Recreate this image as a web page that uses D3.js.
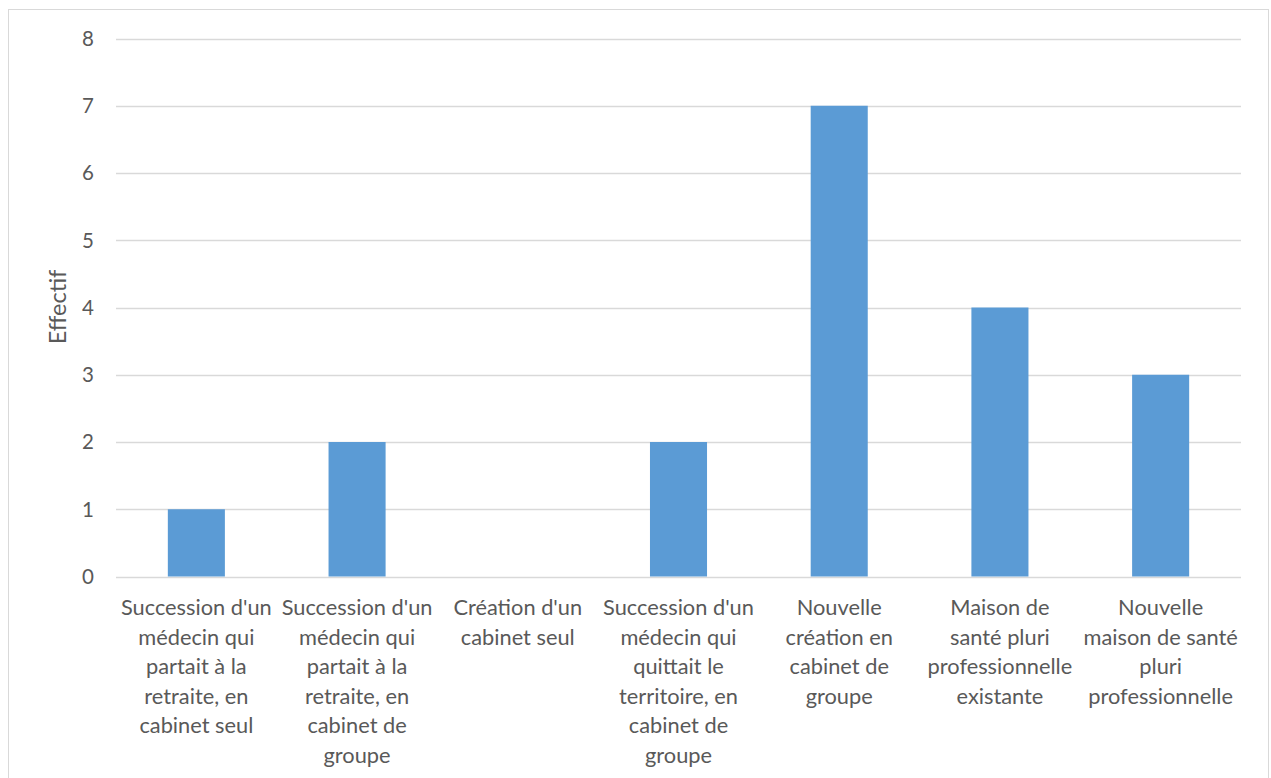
<!DOCTYPE html>
<html><head><meta charset="utf-8">
<script src="https://cdn.jsdelivr.net/npm/d3@7"></script>
<style>body{margin:0;background:#fff}svg{display:block}text{font-family:Lato,"Open Sans",sans-serif;fill:#595959}</style>
</head><body>
<svg id="c" width="1271" height="778"></svg>
<script>
const categories = [
  ["Succession d'un","médecin qui","partait à la","retraite, en","cabinet seul"],
  ["Succession d'un","médecin qui","partait à la","retraite, en","cabinet de","groupe"],
  ["Création d'un","cabinet seul"],
  ["Succession d'un","médecin qui","quittait le","territoire, en","cabinet de","groupe"],
  ["Nouvelle","création en","cabinet de","groupe"],
  ["Maison de","santé pluri","professionnelle","existante"],
  ["Nouvelle","maison de santé","pluri","professionnelle"]
];
const values = [1, 2, 0, 2, 7, 4, 3];
const yTicks = [0,1,2,3,4,5,6,7,8];
const yTitle = "Effectif";

const svg = d3.select("#c");
svg.append("rect").attr("x",8.5).attr("y",9.5).attr("width",1260).attr("height",800)
  .attr("fill","none").attr("stroke","#d9d9d9");

const m = {l:116, r:1241, t:38.5, b:576.5};
const x = d3.scaleBand().domain(d3.range(categories.length)).range([m.l, m.r])
  .paddingInner(0.645).paddingOuter(0.3225);
const y = d3.scaleLinear().domain([0,8]).range([m.b, m.t]);

const grid = svg.append("g");
grid.selectAll("line").data(yTicks).join("line")
  .attr("x1",m.l).attr("x2",m.r)
  .attr("y1",d=>Math.round(y(d))+0.5).attr("y2",d=>Math.round(y(d))+0.5)
  .attr("stroke","#d9d9d9").attr("stroke-width",1.3);

svg.append("g").selectAll("rect").data(values).join("rect")
  .attr("x",(d,i)=>x(i)).attr("width",x.bandwidth())
  .attr("y",d=>y(d)).attr("height",d=>y(0)-y(d))
  .attr("fill","#5b9bd5");

svg.append("g").selectAll("text").data(yTicks).join("text")
  .attr("x",94).attr("y",d=>y(d)).attr("dy","0.36em")
  .attr("text-anchor","end").attr("font-size",20.5).text(d=>d);

const lab = svg.append("g").selectAll("text").data(categories).join("text")
  .attr("text-anchor","middle").attr("font-size",21.8)
  .attr("transform",(d,i)=>`translate(${x(i)+x.bandwidth()/2},615)`);
lab.selectAll("tspan").data(d=>d).join("tspan")
  .attr("x",0).attr("y",(d,j)=>j*29.6).text(d=>d);

svg.append("text").attr("transform","translate(66,307) rotate(-90)")
  .attr("text-anchor","middle").attr("font-size",23.5).text(yTitle);
</script>
</body></html>
